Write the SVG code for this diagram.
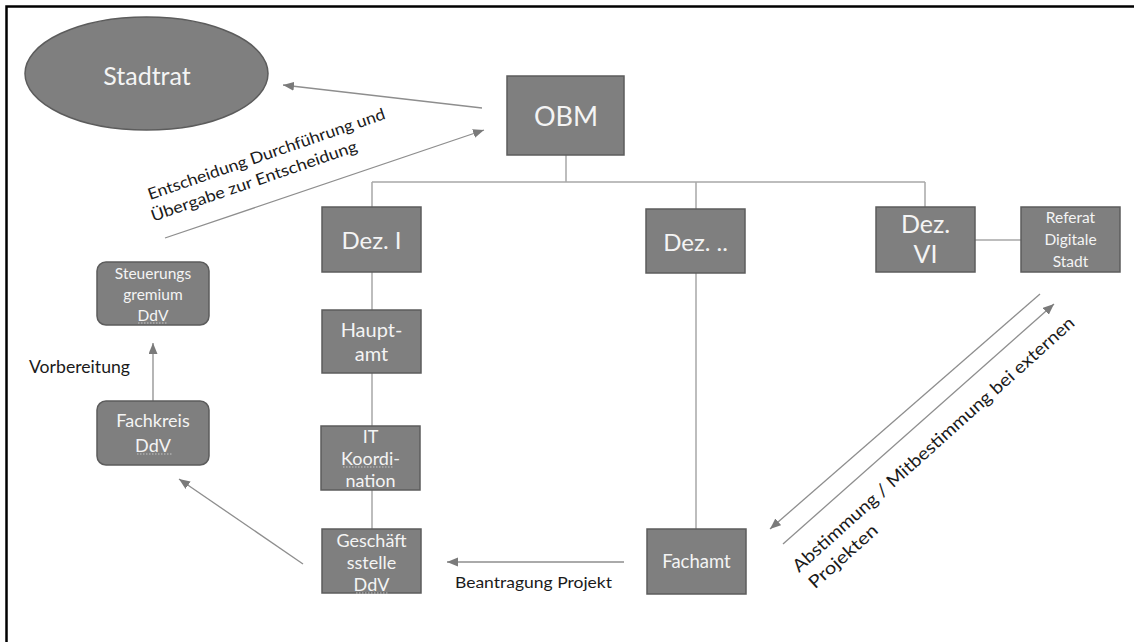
<svg xmlns="http://www.w3.org/2000/svg" width="1134" height="642" viewBox="0 0 1134 642">
<defs>
<style>
.box{fill:#7f7f7f;stroke:#5c5c5c;stroke-width:1.5}
.bt{font-family:Lato,"Open Sans","Liberation Sans",sans-serif;fill:#f4f4f4;text-anchor:middle}
.lbl{font-family:Lato,"Open Sans","Liberation Sans",sans-serif;fill:#1a1a1a}
.con{stroke:#a8a8a8;stroke-width:1.5;fill:none}
.arr{stroke:#8e8e8e;stroke-width:1.3;fill:none;marker-end:url(#ah)}
.sq{stroke:#c4c4c4;stroke-width:1;stroke-dasharray:1.5 1.5;fill:none}
</style>
<marker id="ah" markerUnits="userSpaceOnUse" markerWidth="12" markerHeight="10" refX="11" refY="4.5" orient="auto">
<path d="M0,0 L11,4.5 L0,9 z" fill="#7a7a7a"/>
</marker>
</defs>
<rect width="1134" height="642" fill="#ffffff"/>
<rect x="6.5" y="6.5" width="1140" height="650" fill="none" stroke="#000" stroke-width="2.5"/>

<g id="connectors">
<path class="con" d="M566,155 V182 M372,182 H925 M372,182 V207 M696,182 V209 M925,182 V207 M975,240 H1021 M372,272 V310 M372,373 V426 M372,490 V529 M696,273 V529"/>
<line class="arr" x1="482" y1="108" x2="283" y2="85"/>
<line class="arr" x1="165" y1="238" x2="484" y2="130"/>
<line class="arr" x1="153" y1="401" x2="153" y2="343"/>
<line class="arr" x1="303" y1="564" x2="179" y2="479"/>
<line class="arr" x1="624" y1="562" x2="447" y2="562"/>
<line class="arr" x1="1040" y1="294" x2="770" y2="529"/>
<line class="arr" x1="783" y1="544" x2="1054" y2="304"/>
</g>

<g id="stadtrat">
<ellipse class="box" cx="146.5" cy="73.5" rx="121.5" ry="56.5"/>
<text class="bt" x="147" y="85" font-size="25">Stadtrat</text>
</g>

<g id="obm">
<rect class="box" x="507" y="76" width="117" height="79"/>
<text class="bt" x="566" y="126" font-size="27">OBM</text>
</g>

<g id="dez1">
<rect class="box" x="322" y="207" width="99" height="65"/>
<text class="bt" x="371.5" y="249" font-size="24">Dez. I</text>
</g>

<g id="dezdots">
<rect class="box" x="646" y="209" width="99" height="64"/>
<text class="bt" x="695.5" y="251" font-size="24">Dez. ..</text>
</g>

<g id="dez6">
<rect class="box" x="876" y="207" width="99" height="65"/>
<text class="bt" x="925.5" y="233" font-size="25">Dez.</text>
<text class="bt" x="925.5" y="263" font-size="25">VI</text>
</g>

<g id="referat">
<rect class="box" x="1021" y="207" width="99" height="65"/>
<text class="bt" x="1070.5" y="223" font-size="15.5">Referat</text>
<text class="bt" x="1070.5" y="245" font-size="15.5">Digitale</text>
<text class="bt" x="1070.5" y="267" font-size="15.5">Stadt</text>
</g>

<g id="hauptamt">
<rect class="box" x="322" y="310" width="99" height="63"/>
<text class="bt" x="371.5" y="337" font-size="20">Haupt-</text>
<text class="bt" x="371.5" y="361" font-size="20">amt</text>
</g>

<g id="itkoordination">
<rect class="box" x="321" y="426" width="99" height="64"/>
<text class="bt" x="370.5" y="443" font-size="18">IT</text>
<text class="bt" x="370.5" y="465" font-size="18">Koordi-</text>
<text class="bt" x="370.5" y="487" font-size="18">nation</text>
<path class="sq" d="M343,467 H393"/>
</g>

<g id="geschaeftsstelle">
<rect class="box" x="322" y="529" width="99" height="64"/>
<text class="bt" x="371.5" y="547" font-size="18">Geschäft</text>
<text class="bt" x="371.5" y="569" font-size="18">sstelle</text>
<text class="bt" x="371.5" y="591" font-size="18">DdV</text>
<path class="sq" d="M356,593 H388"/>
</g>

<g id="fachamt">
<rect class="box" x="647" y="529" width="99" height="65"/>
<text class="bt" x="696.5" y="568" font-size="18.5">Fachamt</text>
</g>

<g id="steuerungsgremium">
<rect class="box" x="97" y="262" width="112" height="63" rx="9" ry="9"/>
<text class="bt" x="153" y="279" font-size="15.5">Steuerungs</text>
<text class="bt" x="153" y="300" font-size="15.5">gremium</text>
<text class="bt" x="153" y="321" font-size="15.5">DdV</text>
<path class="sq" d="M138,323 H168"/>
</g>

<g id="fachkreis">
<rect class="box" x="97" y="401" width="112" height="64" rx="9" ry="9"/>
<text class="bt" x="153" y="427" font-size="18">Fachkreis</text>
<text class="bt" x="153" y="452" font-size="18">DdV</text>
<path class="sq" d="M137,454 H173"/>
</g>

<g id="labels">
<text class="lbl" x="29" y="373" font-size="16.5" textLength="101" lengthAdjust="spacingAndGlyphs">Vorbereitung</text>
<text class="lbl" x="455" y="588" font-size="16" textLength="157" lengthAdjust="spacingAndGlyphs">Beantragung Projekt</text>
<g transform="translate(150,200) rotate(-19)">
<text class="lbl" x="0" y="0" font-size="16" textLength="250" lengthAdjust="spacingAndGlyphs">Entscheidung Durchführung und</text>
<text class="lbl" x="-4" y="21.5" font-size="16" textLength="217" lengthAdjust="spacingAndGlyphs">Übergabe zur Entscheidung</text>
</g>
<g transform="translate(799,573) rotate(-41.9)">
<text class="lbl" x="0" y="0" font-size="17.5" textLength="372" lengthAdjust="spacingAndGlyphs">Abstimmung / Mitbestimmung bei externen</text>
<text class="lbl" x="1" y="23" font-size="17.5" textLength="86" lengthAdjust="spacingAndGlyphs">Projekten</text>
</g>
</g>
</svg>
